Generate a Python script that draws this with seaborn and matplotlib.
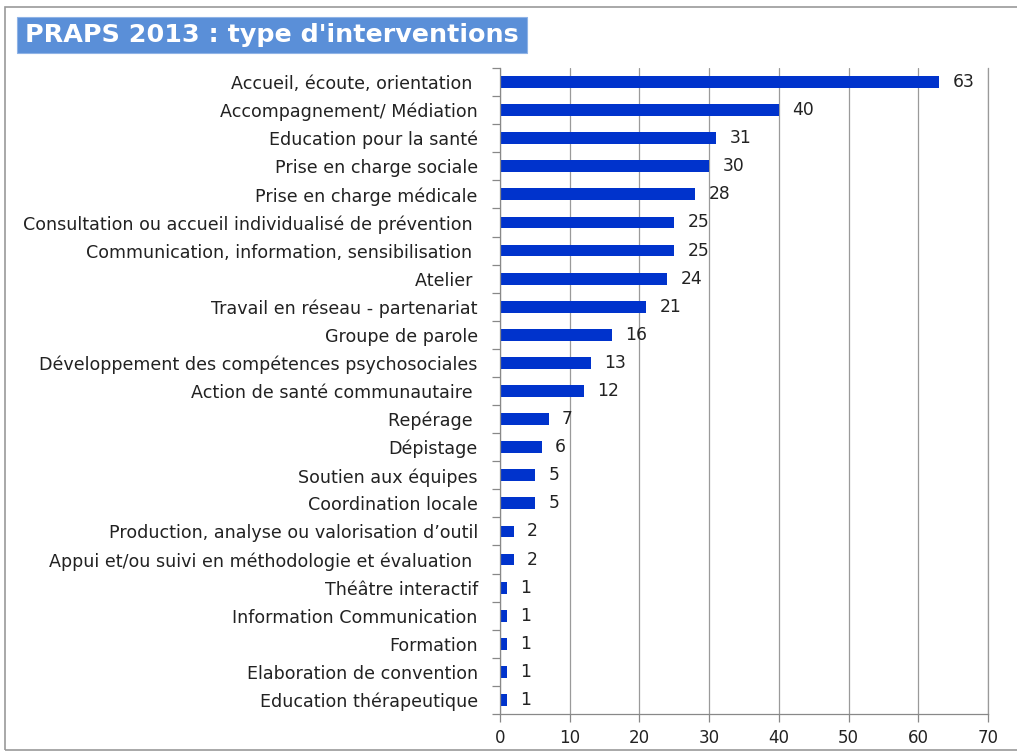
import matplotlib
matplotlib.use("Agg")
import matplotlib.pyplot as plt
from matplotlib.patches import Rectangle
import seaborn as sns
import pandas as pd

categories = [
    "Accueil, écoute, orientation ",
    "Accompagnement/ Médiation",
    "Education pour la santé",
    "Prise en charge sociale",
    "Prise en charge médicale",
    "Consultation ou accueil individualisé de prévention ",
    "Communication, information, sensibilisation ",
    "Atelier ",
    "Travail en réseau - partenariat",
    "Groupe de parole",
    "Développement des compétences psychosociales",
    "Action de santé communautaire ",
    "Repérage ",
    "Dépistage",
    "Soutien aux équipes",
    "Coordination locale",
    "Production, analyse ou valorisation d’outil",
    "Appui et/ou suivi en méthodologie et évaluation ",
    "Théâtre interactif",
    "Information Communication",
    "Formation",
    "Elaboration de convention",
    "Education thérapeutique",
]
values = [63, 40, 31, 30, 28, 25, 25, 24, 21, 16, 13, 12, 7, 6, 5, 5, 2, 2, 1, 1, 1, 1, 1]
x_ticks = [0, 10, 20, 30, 40, 50, 60, 70]
title = "PRAPS 2013 : type d'interventions"

df = pd.DataFrame({"type": categories, "n": values})

sns.set_theme(style="white")
plt.rcParams["font.family"] = ["DejaVu Sans"]

fig = plt.figure(figsize=(10.17, 7.53), dpi=100)
ax = fig.add_axes([0.4917, 0.0518, 0.4798, 0.8579])

bar_color = "#0033CC"
sns.barplot(data=df, x="n", y="type", orient="h", color=bar_color,
            width=0.42, saturation=1, ax=ax, edgecolor="none")

ax.set_xlim(0, 70)
ax.set_ylim(len(categories) - 0.5, -0.5)
ax.set_xticks(x_ticks)
ax.set_xticklabels([str(t) for t in x_ticks], fontsize=12, color="#222222")
ax.set_xlabel("")
ax.set_ylabel("")

# vertical gridlines
ax.grid(axis="x", color="#9a9a9a", linewidth=0.9)
ax.set_axisbelow(True)

# category labels, tick marks between categories
ax.tick_params(axis="y", which="major", length=0, pad=16, labelsize=12.6, labelcolor="#222222")
ax.set_yticks([i + 0.5 for i in range(-1, len(categories))], minor=True)
ax.tick_params(axis="y", which="minor", length=6, color="#888888", width=0.9, left=True)
ax.tick_params(axis="x", which="major", length=6, color="#888888", width=0.9, bottom=True, pad=5)

ax.spines["top"].set_visible(False)
ax.spines["right"].set_color("#9a9a9a")
ax.spines["right"].set_linewidth(0.9)
for side in ["left", "bottom"]:
    ax.spines[side].set_color("#888888")
    ax.spines[side].set_linewidth(0.9)

# value labels
for i, v in enumerate(values):
    ax.text(v + 1.9, i, str(v), va="center", ha="left", fontsize=12.3, color="#222222")

# outer frame
fig.patches.append(Rectangle((5 / 1017, 3 / 753), 1.02, 1 - 10 / 753, transform=fig.transFigure,
                             fill=False, edgecolor="#9a9a9a", linewidth=1.2))

# title banner
fig.patches.append(Rectangle((17 / 1017, 1 - 53 / 753), 510 / 1017, 36 / 753,
                             transform=fig.transFigure, facecolor="#5A8FD8",
                             edgecolor="#8fb3e6", linewidth=0.8))
fig.text(272 / 1017, 1 - 35 / 753, title, ha="center", va="center",
         fontsize=18.3, fontweight="bold", color="white")

fig.savefig("out.png", dpi=100)
